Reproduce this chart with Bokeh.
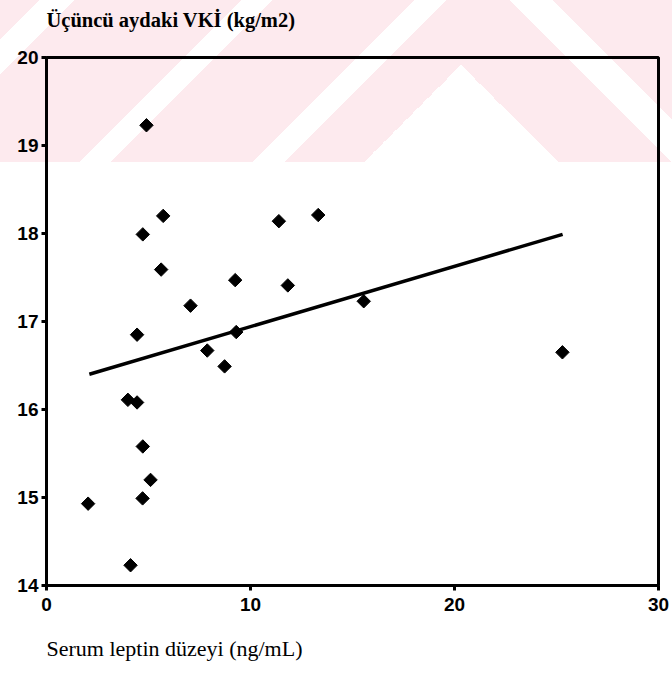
import numpy as np
from bokeh.plotting import figure
from bokeh.models import Range1d, FixedTicker, Title
from bokeh.embed import file_html
from bokeh.resources import INLINE

# Data
leptin = [4.90, 5.72, 4.72, 5.62, 7.06, 4.44, 3.99, 4.44, 4.72, 5.10, 4.71,
          2.04, 4.12, 11.39, 13.32, 9.25, 11.83, 15.55, 9.30, 7.88, 8.73, 25.29]
bmi = [19.23, 18.20, 17.99, 17.59, 17.18, 16.85, 16.11, 16.08, 15.58, 15.20, 14.99,
       14.93, 14.23, 18.14, 18.21, 17.47, 17.41, 17.23, 16.88, 16.67, 16.49, 16.65]
fit_x = [2.1, 25.3]
fit_y = [16.40, 17.99]
x_ticks = [0, 10, 20, 30]
y_ticks = [14, 15, 16, 17, 18, 19, 20]
y_title = "Üçüncü aydaki VKİ (kg/m2)"
x_title = "Serum leptin düzeyi (ng/mL)"

p = figure(width=672, height=686, output_backend="svg", toolbar_location=None,
           x_range=Range1d(0, 30), y_range=Range1d(14, 20),
           min_border_left=46, min_border_right=14, min_border_top=57, min_border_bottom=101)
# transparent canvas so that the page's faint scanned watermark (CSS) shows through
p.background_fill_color = None
p.border_fill_color = None
pink = "#fdeaee"
band = "0 0 / 672px 162px no-repeat"
p.styles = {
    "background": (
        f"conic-gradient(from 135deg at 461px 65px, #fff 0deg 90deg, transparent 90deg) {band}, "
        "linear-gradient(135deg, transparent 28px, #fff 28px, #fff 53px, transparent 53px, "
        "transparent 171px, #fff 171px, #fff 193px, transparent 193px, "
        f"transparent 293px, #fff 293px, #fff 316px, transparent 316px) {band}, "
        f"linear-gradient(45deg, transparent 475px, #fff 475px, #fff 505px, transparent 505px) {band}, "
        f"linear-gradient({pink}, {pink}) {band}, #fff"
    )
}
p.outline_line_color = "black"
p.outline_line_width = 3
p.xgrid.visible = False
p.ygrid.visible = False

for ax in (p.xaxis[0], p.yaxis[0]):
    ax.axis_line_width = 3
    ax.axis_line_color = "black"
    ax.major_tick_line_width = 3
    ax.major_tick_line_color = "black"
    ax.major_tick_out = 5
    ax.major_tick_in = 0
    ax.minor_tick_line_color = None
    ax.major_label_text_font = "Liberation Sans"
    ax.major_label_text_font_style = "bold"
    ax.major_label_text_font_size = "19px"
    ax.major_label_text_color = "black"

p.xaxis.ticker = FixedTicker(ticks=x_ticks)
p.yaxis.ticker = FixedTicker(ticks=y_ticks)
p.xaxis.major_label_standoff = 7
p.yaxis.major_label_standoff = 3

p.line(fit_x, fit_y, line_width=3.5, line_color="black")
p.scatter(leptin, bmi, marker="square", angle=np.pi / 4, size=9.5,
          fill_color="black", line_color="black")

# blank spacer title next to the frame, then the real title above it
spacer = Title(text=" ", text_font_size="10px", standoff=14)
p.add_layout(spacer, "above")
t_top = Title(text=y_title, align="left", text_font="Liberation Serif", text_color="black",
              text_font_style="bold", text_font_size="20.5px", standoff=0)
p.add_layout(t_top, "above")
t_bot = Title(text=x_title, align="left", text_font="Liberation Serif", text_color="black",
              text_font_style="normal", text_font_size="22px", standoff=41)
p.add_layout(t_bot, "below")

open("out.html", "w").write(file_html(p, INLINE))
